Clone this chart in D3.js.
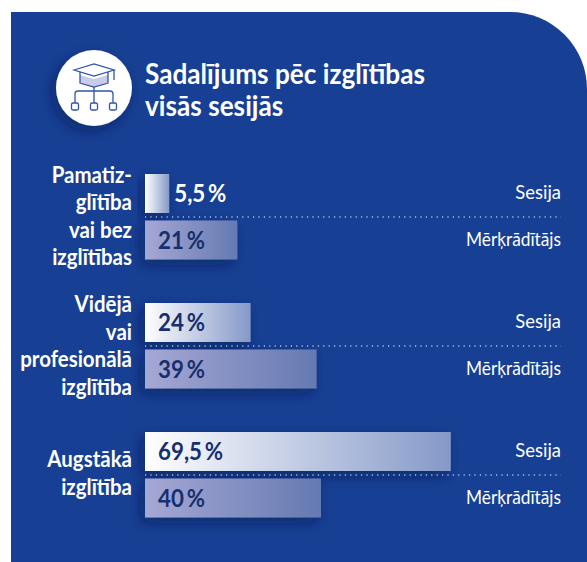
<!DOCTYPE html>
<html>
<head>
<meta charset="utf-8">
<script src="https://cdn.jsdelivr.net/npm/d3@7"></script>
<style>
html, body { margin: 0; padding: 0; background: #fff; }
svg { display: block; }
text { font-family: "Lato", sans-serif; }
</style>
</head>
<body>
<script>
const titleLines = ["Sadalījums pēc izglītības", "visās sesijās"];
const groups = ["Pamatizglītība vai bez izglītības", "Vidējā vai profesionālā izglītība", "Augstākā izglītība"];
const groupLines = [
    ["Pamatiz-", "glītība", "vai bez", "izglītības"],
    ["Vidējā", "vai", "profesionālā", "izglītība"],
    ["Augstākā", "izglītība"]
];
const seriesNames = ["Sesija", "Mērķrādītājs"];
const sesija = [5.5, 24, 69.5];
const merkraditajs = [21, 39, 40];
const valueLabels = [["5,5\u2009%", "21\u2009%"], ["24\u2009%", "39\u2009%"], ["69,5\u2009%", "40\u2009%"]];

const width = 587, height = 562;
const blue = "#174094", darkBlue = "#172f6e";

let svg = d3.select("body").append("svg").attr("width", width).attr("height", height);
let defs = svg.append("defs");

let gradA = defs.append("linearGradient").attr("id", "gradSesija");
gradA.append("stop").attr("offset", "0").attr("stop-color", "#ffffff");
gradA.append("stop").attr("offset", "1").attr("stop-color", "#8599c8");
let gradB = defs.append("linearGradient").attr("id", "gradMerk");
gradB.append("stop").attr("offset", "0").attr("stop-color", "#a5a8d4");
gradB.append("stop").attr("offset", "1").attr("stop-color", "#6579b2");

let shadow = defs.append("filter").attr("id", "shadow")
    .attr("x", "-30%").attr("y", "-50%").attr("width", "160%").attr("height", "220%");
shadow.append("feDropShadow").attr("dx", -4).attr("dy", 5).attr("stdDeviation", 7)
    .attr("flood-color", "#06153f").attr("flood-opacity", 0.5);

// the font is wider than the original one, so squeeze the text a bit
function squeeze(sel, f) {
    sel.each(function(d) {
        const k = typeof f === "function" ? f(d) : f;
        this.setAttribute("textLength", this.getComputedTextLength() * k);
        this.setAttribute("lengthAdjust", "spacingAndGlyphs");
    });
}

// panel with the rounded top right corner
const panelPath = d3.path();
panelPath.moveTo(11, 12);
panelPath.lineTo(510, 12);
panelPath.arcTo(587, 12, 587, 89, 77);
panelPath.lineTo(587, 562);
panelPath.lineTo(11, 562);
panelPath.closePath();
svg.append("path").attr("d", panelPath.toString()).attr("fill", blue);

// title
svg.append("g").selectAll("text").data(titleLines).join("text")
    .attr("x", 145).attr("y", (d, i) => 84 + i * 32)
    .attr("fill", "#fff").attr("font-size", 28).attr("font-weight", 700)
    .text(d => d)
    .call(squeeze, 0.935);

// icon
let icon = svg.append("g").attr("transform", "translate(94,88)");
icon.append("circle").attr("r", 38).attr("fill", "#fff").attr("filter", "url(#shadow)");
icon.append("path").attr("d", "M-14,-13 V-6 L0,-1 L14,-6 V-13 L0,-9 Z").attr("fill", "#c9cbe8");
let iconLines = icon.append("g").attr("fill", "none").attr("stroke", "#2f55a8").attr("stroke-width", 1.3);
iconLines.append("path").attr("d", "M-20,-18 L0,-24 L20,-18 L0,-12 Z");
iconLines.append("path").attr("d", "M-14,-16 V-5 L0,-1 L14,-5 V-16");
iconLines.append("path").attr("d", "M20,-18 V-8");
iconLines.append("path").attr("d", "M0,-1 V15 M-19,15 V6 Q-19,3 -16,3 H16 Q19,3 19,6 V15");
[-19, 0, 19].forEach(x => {
    iconLines.append("rect").attr("x", x - 3.5).attr("y", 15).attr("width", 7).attr("height", 7).attr("rx", 1.5);
});

// one row per bar
const rows = [];
groups.forEach((g, i) => {
    rows.push({ group: g, idx: i, series: seriesNames[0], value: sesija[i], label: valueLabels[i][0], first: true });
    rows.push({ group: g, idx: i, series: seriesNames[1], value: merkraditajs[i], label: valueLabels[i][1], first: false });
});

const x = d3.scaleLinear().domain([0, 100]).range([145, 585]);
const barTop = d3.scaleOrdinal().domain(groups).range([174, 303, 432]);
const barH = 39, rowGap = 47;
const rowY = d => barTop(d.group) + (d.first ? 0 : rowGap - 0.5);

svg.append("g").selectAll("rect").data(rows).join("rect")
    .attr("x", x(0)).attr("y", rowY)
    .attr("width", d => x(d.value) - x(0)).attr("height", barH)
    .attr("fill", d => d.first ? "url(#gradSesija)" : "url(#gradMerk)")
    .attr("filter", "url(#shadow)");

// dotted separators
svg.append("g").selectAll("line").data(groups).join("line")
    .attr("x1", x(0)).attr("x2", 561)
    .attr("y1", d => barTop(d) + 43).attr("y2", d => barTop(d) + 43)
    .attr("stroke", "#fff").attr("stroke-width", 1.2).attr("stroke-dasharray", "1.2 4.2");

// values
svg.append("g").selectAll("text").data(rows).join("text")
    .attr("x", d => d.value < 10 ? x(d.value) + 5 : 158)
    .attr("y", d => rowY(d) + 28)
    .attr("font-size", 24).attr("font-weight", 700)
    .attr("fill", d => d.value < 10 ? "#fff" : darkBlue)
    .text(d => d.label)
    .call(squeeze, 0.93);

// series names on the right
svg.append("g").selectAll("text").data(rows).join("text")
    .attr("x", 561).attr("y", d => rowY(d) + 25)
    .attr("text-anchor", "end").attr("font-size", 19).attr("fill", "#fff")
    .text(d => d.series)
    .call(squeeze, d => d.first ? 0.97 : 0.91);

// group labels
const labelCenter = [217, 346.5, 474];
groups.forEach((g, i) => {
    const lines = groupLines[i], lh = 27.5;
    svg.append("g").selectAll("text").data(lines).join("text")
        .attr("x", 132)
        .attr("y", (d, k) => labelCenter[i] + (k - (lines.length - 1) / 2) * lh + 7)
        .attr("text-anchor", "end").attr("font-size", 22).attr("font-weight", 700).attr("fill", "#fff")
        .text(d => d)
        .call(squeeze, 0.93);
});
</script>
</body>
</html>
